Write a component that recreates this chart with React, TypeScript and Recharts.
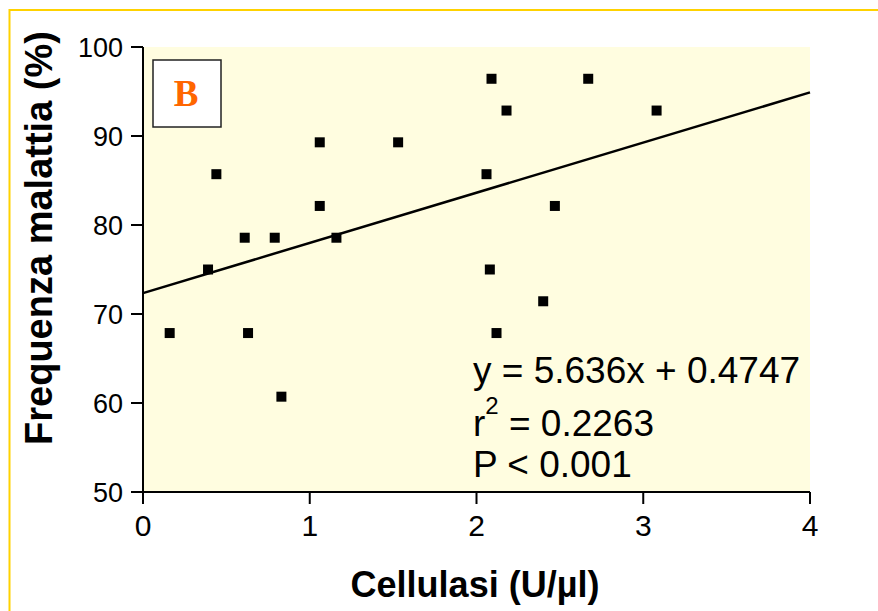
import React from 'react';
import { ScatterChart, Scatter, XAxis, YAxis, ReferenceArea, ReferenceLine } from 'recharts';

// Cellulasi (U/µl) vs frequenza malattia (%)
const cellulasi = [2.09, 2.67, 2.18, 3.08, 1.06, 1.53, 0.44, 2.06, 1.06, 2.47, 0.61, 0.79, 1.16, 0.39, 2.08, 2.40, 0.16, 0.63, 2.12, 0.83];
const frequenza = [96.43, 96.43, 92.86, 92.86, 89.29, 89.29, 85.71, 85.71, 82.14, 82.14, 78.57, 78.57, 78.57, 75.0, 75.0, 71.43, 67.86, 67.86, 67.86, 60.71];

// regression line end points, as drawn
const fitX = [0, 4];
const fitY = [72.35, 94.9];

const xTicks = [0, 1, 2, 3, 4];
const yTicks = [50, 60, 70, 80, 90, 100];

const equation = 'y = 5.636x + 0.4747';
const rSquared = '0.2263';
const pValue = 'P < 0.001';

const points = cellulasi.map((x, i) => ({ x, y: frequenza[i] }));

const W = 878;
const H = 611;
const FONT = '"Liberation Sans", Arial, Helvetica, sans-serif';

const SquareDot = (props: any) => {
  const { cx, cy } = props;
  if (cx == null || cy == null) return null;
  return <rect x={cx - 5} y={cy - 5} width={10} height={10} fill="#000" />;
};

export default function App() {
  return (
    <div style={{ position: 'absolute', left: 0, top: 0, width: W, height: H, overflow: 'hidden', background: '#fff' }}>
      <ScatterChart width={W} height={H} margin={{ top: 47, right: 68, bottom: 0, left: 0 }}>
        <ReferenceArea x1={0} x2={4} y1={50} y2={100} fill="#FFFDE0" fillOpacity={1} stroke="none" />
        <XAxis
          type="number"
          dataKey="x"
          domain={[0, 4]}
          ticks={xTicks}
          height={119}
          axisLine={{ stroke: '#000', strokeWidth: 2 }}
          tickLine={{ stroke: '#000', strokeWidth: 2 }}
          tickSize={12}
          tickMargin={11}
          tick={{ fill: '#000', fontSize: 30, fontFamily: FONT }}
        />
        <YAxis
          type="number"
          dataKey="y"
          domain={[50, 100]}
          ticks={yTicks}
          width={143}
          axisLine={{ stroke: '#000', strokeWidth: 2 }}
          tickLine={{ stroke: '#000', strokeWidth: 2 }}
          tickSize={12}
          tickMargin={8}
          tick={{ fill: '#000', fontSize: 27, fontFamily: FONT }}
        />
        <ReferenceLine
          segment={[{ x: fitX[0], y: fitY[0] }, { x: fitX[1], y: fitY[1] }]}
          stroke="#000"
          strokeWidth={2.5}
        />
        <Scatter data={points} fill="#000" shape={SquareDot} isAnimationActive={false} />
      </ScatterChart>

      <svg width={W} height={H} style={{ position: 'absolute', left: 0, top: 0, pointerEvents: 'none' }}>
        {/* yellow slide frame */}
        <path d={`M9.5,${H} V10 H${W}`} fill="none" stroke="#FFD200" strokeWidth={2} />

        {/* panel letter */}
        <rect x={153} y={60} width={68} height={67} fill="#fff" stroke="#222" strokeWidth={1.5} />
        <text x={186} y={106} textAnchor="middle" fontFamily='"Liberation Serif", "Times New Roman", serif' fontWeight="bold" fontSize={37} fill="#FF6600">B</text>

        {/* regression statistics */}
        <text x={473} y={383} fontFamily={FONT} fontSize={37} fill="#000">{equation}</text>
        <text x={473} y={436} fontFamily={FONT} fontSize={37} fill="#000">
          r<tspan style={{ fontSize: 24 }} dy={-22}>2</tspan><tspan style={{ fontSize: 37 }} dy={22}>{' = ' + rSquared}</tspan>
        </text>
        <text x={473} y={477} fontFamily={FONT} fontSize={37} fill="#000">{pValue}</text>

        {/* axis titles */}
        <text x={475} y={597} textAnchor="middle" fontFamily={FONT} fontWeight="bold" fontSize={36} fill="#000">Cellulasi (U/µl)</text>
        <text x={52} y={238} transform="rotate(-90 52 238)" textAnchor="middle" fontFamily={FONT} fontWeight="bold" fontSize={38} fill="#000">Frequenza malattia (%)</text>
      </svg>
    </div>
  );
}
